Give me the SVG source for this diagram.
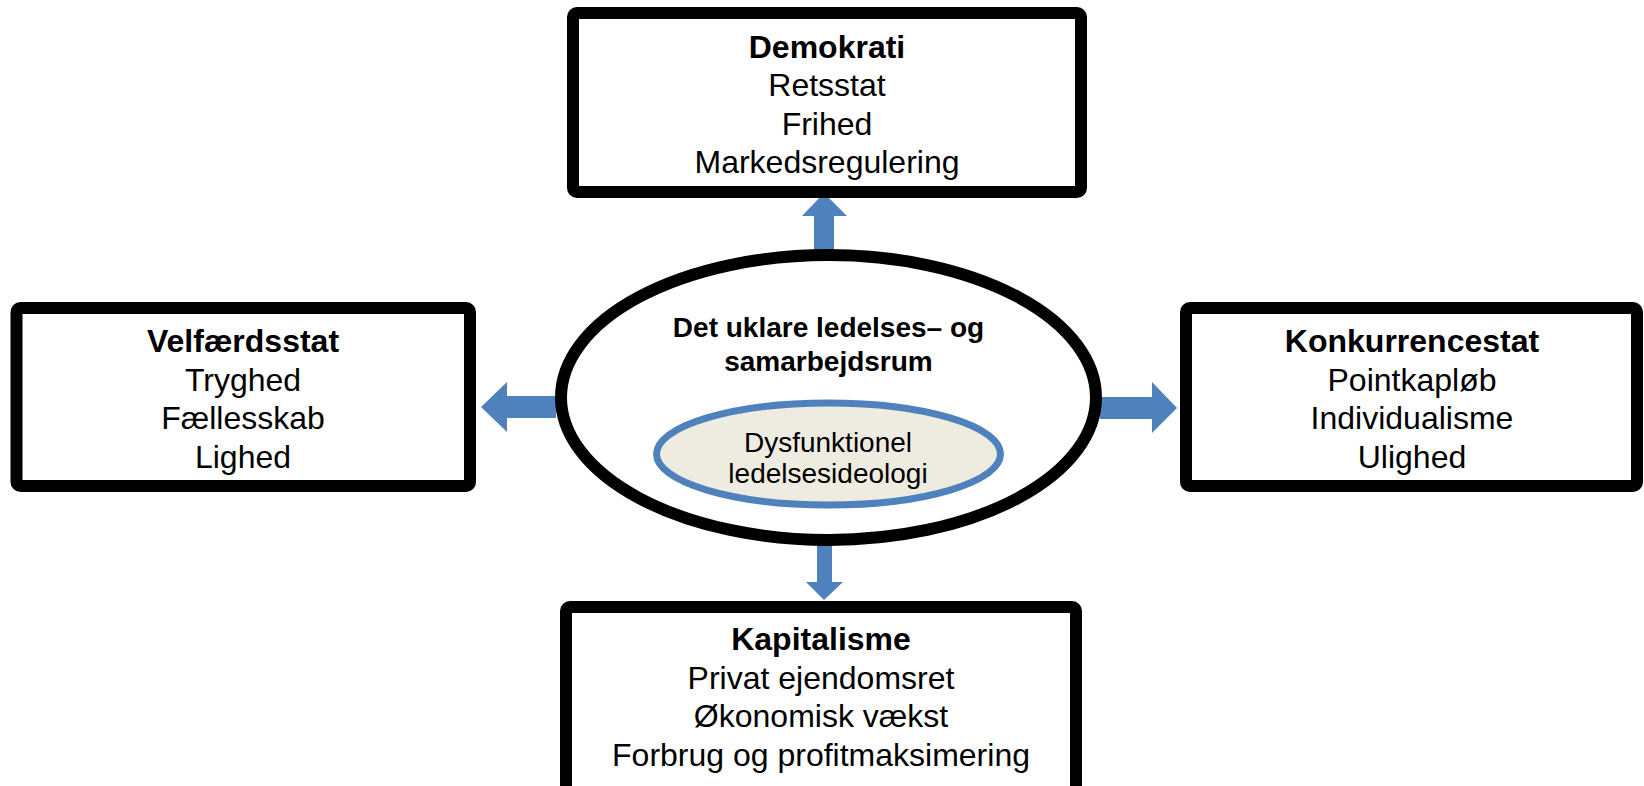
<svg xmlns="http://www.w3.org/2000/svg" width="1644" height="786" viewBox="0 0 1644 786">
<style>
.box{fill:#fff;stroke:#000;stroke-width:12}
.t{font-family:"Liberation Sans",Arial,sans-serif;font-size:32px;fill:#000;text-anchor:middle}
.b{font-weight:bold}
.arr{fill:#4F81BD}
.e{font-family:"Liberation Sans",Arial,sans-serif;font-size:28px;fill:#000;text-anchor:middle}
</style>
<rect width="1644" height="786" fill="#fff"/>
<g id="connectors">
<polygon class="arr" points="824,193 847,216 834,216 834,252 814,252 814,216 802,216"/>
<polygon class="arr" points="481,407 507,382 507,396 556,396 556,418 507,418 507,432"/>
<polygon class="arr" points="1177,408 1152,433 1152,419 1100,419 1100,397 1152,397 1152,382"/>
<polygon class="arr" points="824,600 843,582 832,582 832,544 817,544 817,582 806,582"/>
</g>
<g id="center">
<ellipse cx="828.5" cy="397.5" rx="267.5" ry="142.5" fill="#fff" stroke="#000" stroke-width="12"/>
<text class="e b" x="828.5" y="337">Det uklare ledelses– og</text>
<text class="e b" x="828.5" y="371">samarbejdsrum</text>
</g>
<g id="inner">
<ellipse cx="828.5" cy="454" rx="172" ry="51" fill="#EEECE1" stroke="#4F81BD" stroke-width="7"/>
<text class="e" x="828" y="452">Dysfunktionel</text>
<text class="e" x="828" y="483">ledelsesideologi</text>
</g>
<g id="demokrati">
<rect class="box" x="573" y="13" width="508" height="179" rx="4"/>
<text class="t b" x="827" y="57.5">Demokrati</text>
<text class="t" x="827" y="96">Retsstat</text>
<text class="t" x="827" y="134.5">Frihed</text>
<text class="t" x="827" y="173">Markedsregulering</text>
</g>
<g id="velfaerdsstat">
<rect class="box" x="16.5" y="308" width="453.5" height="178" rx="4"/>
<text class="t b" x="243" y="352">Velfærdsstat</text>
<text class="t" x="243" y="390.5">Tryghed</text>
<text class="t" x="243" y="429">Fællesskab</text>
<text class="t" x="243" y="467.5">Lighed</text>
</g>
<g id="konkurrencestat">
<rect class="box" x="1186" y="308" width="451" height="178" rx="4"/>
<text class="t b" x="1412" y="352">Konkurrencestat</text>
<text class="t" x="1412" y="390.5">Pointkapløb</text>
<text class="t" x="1412" y="429">Individualisme</text>
<text class="t" x="1412" y="467.5">Ulighed</text>
</g>
<g id="kapitalisme">
<rect class="box" x="566" y="607" width="510" height="200" rx="4"/>
<text class="t b" x="821" y="650">Kapitalisme</text>
<text class="t" x="821" y="688.5">Privat ejendomsret</text>
<text class="t" x="821" y="727">Økonomisk vækst</text>
<text class="t" x="821" y="765.5">Forbrug og profitmaksimering</text>
</g>
</svg>
